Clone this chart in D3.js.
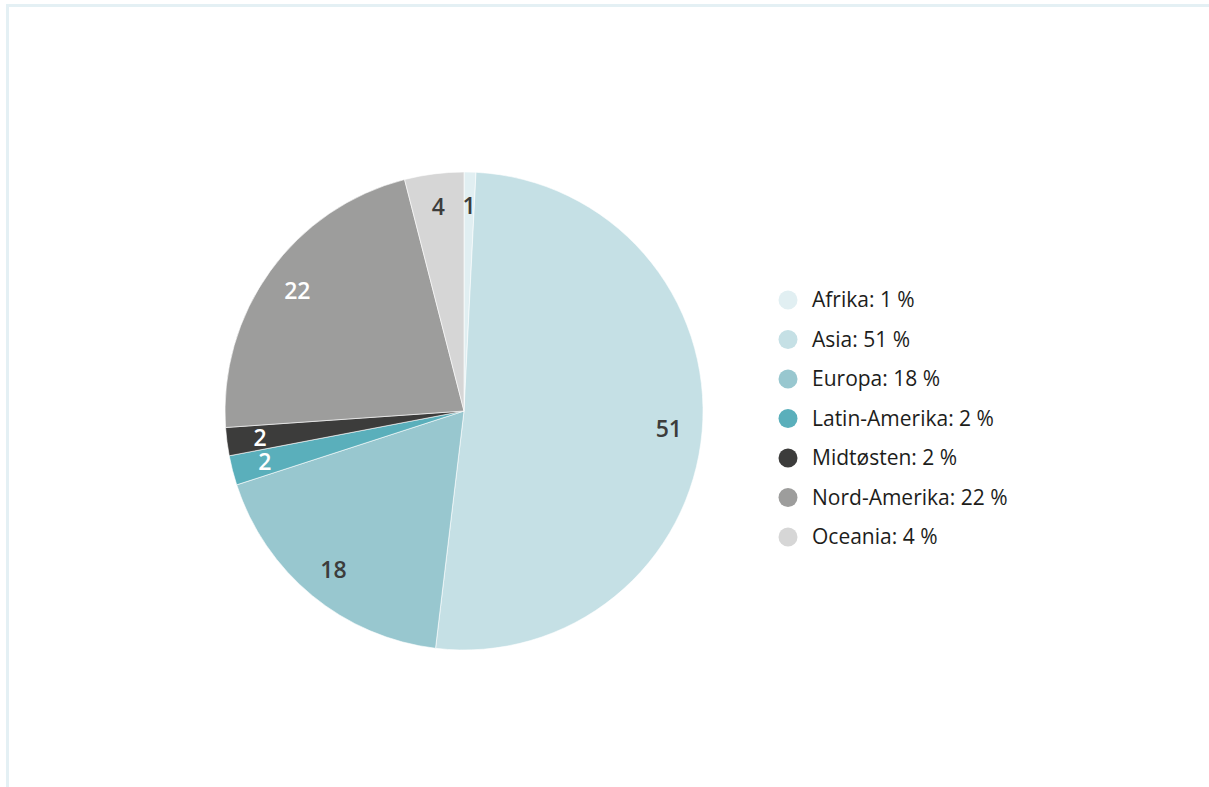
<!doctype html>
<html>
<head>
<meta charset="utf-8">
<script src="https://cdnjs.cloudflare.com/ajax/libs/d3/7.8.5/d3.min.js"></script>
<style>
body { margin: 0; background: #fff; }
svg { display: block; font-family: "Open Sans", "Noto Sans", sans-serif; }
</style>
</head>
<body>
<svg width="1209" height="787"></svg>
<script>
var regions = ["Afrika", "Asia", "Europa", "Latin-Amerika", "Midtøsten", "Nord-Amerika", "Oceania"];
var shares = [0.8, 51.1, 18.1, 2.0, 1.9, 22.1, 4.0];
var labels = ["1", "51", "18", "2", "2", "22", "4"];
var colors = ["#e1eff2", "#c5e0e5", "#98c7cf", "#5aafbb", "#3c3c3b", "#9d9d9c", "#d6d6d6"];
var labelColors = ["#3c3c3b", "#3c3c3b", "#3c3c3b", "#ffffff", "#ffffff", "#ffffff", "#3c3c3b"];

var data = regions.map((r, i) => ({ name: r, value: shares[i], label: labels[i], color: colors[i], tc: labelColors[i] }));

var svg = d3.select("svg");

// frame
svg.append("rect").attr("x", 7).attr("y", 5).attr("width", 1210).attr("height", 790)
  .attr("fill", "none").attr("stroke", "#e4f0f4").attr("stroke-width", 3)
  .attr("transform", "translate(0.5,0.5)");

var cx = 464, cy = 411, R = 239;
var pie = d3.pie().sort(null).value(d => d.value);
var arc = d3.arc().innerRadius(0).outerRadius(R);
var labelArc = d3.arc().innerRadius(R * 0.86).outerRadius(R * 0.86);

var g = svg.append("g").attr("transform", "translate(" + cx + "," + cy + ")");
var arcs = pie(data);

g.selectAll("path").data(arcs).enter().append("path")
  .attr("d", arc)
  .attr("fill", d => d.data.color)
  .attr("stroke", "#ffffff")
  .attr("stroke-width", 0.6);

g.selectAll("text").data(arcs).enter().append("text")
  .attr("transform", d => "translate(" + labelArc.centroid(d) + ")")
  .attr("text-anchor", "middle")
  .attr("dy", "0.36em")
  .attr("font-size", 23)
  .attr("font-weight", 600)
  .attr("fill", d => d.data.tc)
  .text(d => d.data.label);

// legend
var legend = svg.append("g").attr("transform", "translate(788,300)");
var item = legend.selectAll("g").data(data).enter().append("g")
  .attr("transform", (d, i) => "translate(0," + (i * 39.5) + ")");
item.append("circle").attr("r", 9.5).attr("fill", d => d.color);
item.append("text").attr("x", 24).attr("dy", "0.35em")
  .attr("font-size", 21).attr("fill", "#1d1d1b")
  .text(d => d.name + ": " + d.label + " %");
</script>
</body>
</html>
